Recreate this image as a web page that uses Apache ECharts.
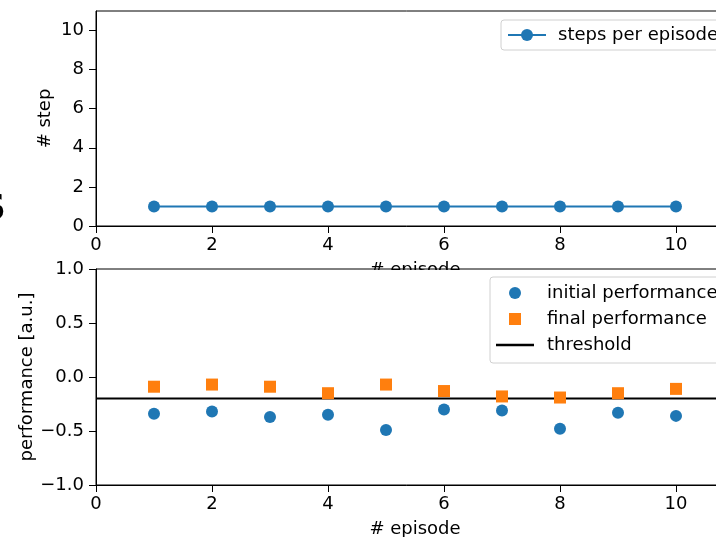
<!DOCTYPE html>
<html>
<head>
<meta charset="utf-8">
<script src="https://cdn.jsdelivr.net/npm/echarts@6/dist/echarts.min.js"></script>
<style>html,body{margin:0;padding:0;background:#fff;}#c{width:716px;height:537px;}</style>
</head>
<body>
<div id="c"></div>
<script>
const episodes = [1, 2, 3, 4, 5, 6, 7, 8, 9, 10];
const stepsPerEpisode = [1, 1, 1, 1, 1, 1, 1, 1, 1, 1];
const initialPerformance = [-0.34, -0.32, -0.37, -0.35, -0.49, -0.30, -0.31, -0.48, -0.33, -0.36];
const finalPerformance = [-0.09, -0.07, -0.09, -0.15, -0.07, -0.13, -0.18, -0.19, -0.15, -0.11];
const thresholdValue = -0.2;
const episodeTicks = [0, 2, 4, 6, 8, 10];
const stepTicks = [0, 2, 4, 6, 8, 10];
const perfTicks = [-1.0, -0.5, 0.0, 0.5, 1.0];
const xLimits = [0, 11];
const stepLimits = [0, 11];
const perfLimits = [-1, 1];

const FONT = 'DejaVu Sans';
const FS = 18;
const BLUE = '#1f77b4';
const ORANGE = '#ff7f0e';
const fmtMinus = v => String(v).replace('-', '\u2212');

const axisCommon = {
  nameMoveOverlap: false,
  axisLine: { show: true, onZero: false, lineStyle: { color: '#000', width: 1 } },
  axisTick: { show: true, inside: false, length: 7, lineStyle: { color: '#000', width: 1 } },
  splitLine: { show: false },
  nameTextStyle: { color: '#000', fontFamily: FONT, fontSize: FS },
  axisLabel: { color: '#000', fontFamily: FONT, fontSize: FS }
};

const chart = echarts.init(document.getElementById('c'), null, { renderer: 'canvas' });
chart.setOption({
  animation: false,
  backgroundColor: '#fff',
  textStyle: { fontFamily: FONT },
  grid: [
    { left: 96, top: 11, width: 638, height: 215, outerBoundsMode: 'none', containLabel: false,
      show: true, borderColor: '#000', borderWidth: 1, backgroundColor: '#fff' },
    { left: 96, top: 269, width: 638, height: 216, outerBoundsMode: 'none', containLabel: false,
      show: true, borderColor: '#000', borderWidth: 1, backgroundColor: '#fff' }
  ],
  xAxis: [
    Object.assign({}, axisCommon, {
      gridIndex: 0, type: 'value', min: xLimits[0], max: xLimits[1],
      name: '# episode', nameLocation: 'middle', nameGap: 35,
      axisTick: Object.assign({}, axisCommon.axisTick, { customValues: episodeTicks }),
      axisLabel: Object.assign({}, axisCommon.axisLabel, { customValues: episodeTicks, margin: 10 })
    }),
    Object.assign({}, axisCommon, {
      gridIndex: 1, type: 'value', min: xLimits[0], max: xLimits[1],
      name: '# episode', nameLocation: 'middle', nameGap: 35,
      axisTick: Object.assign({}, axisCommon.axisTick, { customValues: episodeTicks }),
      axisLabel: Object.assign({}, axisCommon.axisLabel, { customValues: episodeTicks, margin: 10 })
    })
  ],
  yAxis: [
    Object.assign({}, axisCommon, {
      gridIndex: 0, type: 'value', min: stepLimits[0], max: stepLimits[1],
      name: '# step', nameLocation: 'middle', nameGap: 42,
      axisTick: Object.assign({}, axisCommon.axisTick, { customValues: stepTicks }),
      axisLabel: Object.assign({}, axisCommon.axisLabel, { customValues: stepTicks, margin: 12 })
    }),
    Object.assign({}, axisCommon, {
      gridIndex: 1, type: 'value', min: perfLimits[0], max: perfLimits[1],
      name: 'performance [a.u.]', nameLocation: 'middle', nameGap: 60,
      axisTick: Object.assign({}, axisCommon.axisTick, { customValues: perfTicks }),
      axisLabel: Object.assign({}, axisCommon.axisLabel, {
        customValues: perfTicks, margin: 12,
        formatter: v => fmtMinus(Number(v).toFixed(1))
      })
    })
  ],
  legend: [
    {
      data: ['steps per episode'],
      left: 501, top: 20, orient: 'vertical',
      padding: [6, 6, 6, 6],
      itemWidth: 38, itemHeight: 15,
      backgroundColor: '#fff', borderColor: '#d0d0d0', borderWidth: 1, borderRadius: 3,
      textStyle: { color: '#000', fontFamily: FONT, fontSize: FS, lineHeight: 18, padding: [0, 0, 0, 7] }
    },
    {
      data: [
        { name: 'initial performance', icon: 'circle' },
        { name: 'final performance', icon: 'path://M0,0L10,0L10,10L0,10Z' },
        { name: 'threshold', icon: 'path://M0,0L15,0L15,1L0,1Z' }
      ],
      left: 490, top: 277, orient: 'vertical',
      padding: [7, 6, 9, 6], itemGap: 8,
      itemWidth: 38, itemHeight: 12,
      backgroundColor: '#fff', borderColor: '#d0d0d0', borderWidth: 1, borderRadius: 3,
      textStyle: { color: '#000', fontFamily: FONT, fontSize: FS, lineHeight: 18, padding: [0, 0, 0, 8] }
    }
  ],
  series: [
    {
      name: 'steps per episode', type: 'line', xAxisIndex: 0, yAxisIndex: 0,
      data: episodes.map((e, i) => [e, stepsPerEpisode[i]]),
      symbol: 'circle', symbolSize: 12,
      lineStyle: { color: BLUE, width: 2 },
      itemStyle: { color: BLUE }
    },
    {
      name: 'threshold', type: 'line', xAxisIndex: 1, yAxisIndex: 1,
      data: xLimits.map(x => [x, thresholdValue]),
      symbol: 'none',
      lineStyle: { color: '#000', width: 2 },
      itemStyle: { color: '#000' },
      z: 1
    },
    {
      name: 'initial performance', type: 'scatter', xAxisIndex: 1, yAxisIndex: 1,
      data: episodes.map((e, i) => [e, initialPerformance[i]]),
      symbol: 'circle', symbolSize: 12,
      itemStyle: { color: BLUE, opacity: 1 }, z: 3
    },
    {
      name: 'final performance', type: 'scatter', xAxisIndex: 1, yAxisIndex: 1,
      data: episodes.map((e, i) => [e, finalPerformance[i]]),
      symbol: 'rect', symbolSize: 12,
      itemStyle: { color: ORANGE, opacity: 1 }, z: 3
    }
  ],
  graphic: [
    { type: 'rect', left: 355, top: 270, shape: { width: 125, height: 16 }, style: { fill: '#fff' }, z: 100, silent: true },
    { type: 'text', x: 6, y: 210, z: 100, silent: true,
      style: { text: 'S', fill: '#000', font: 'bold 36px "DejaVu Sans"', textAlign: 'right', textVerticalAlign: 'middle' } }
  ]
});
</script>
</body>
</html>
